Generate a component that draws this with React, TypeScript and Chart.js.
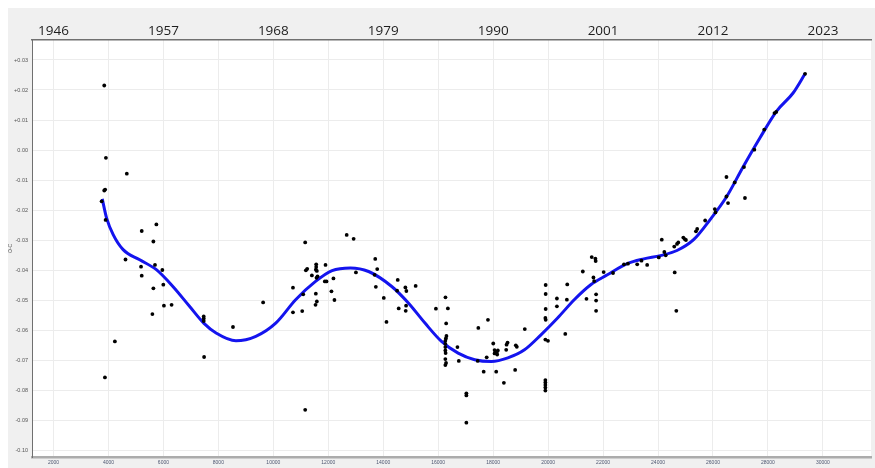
import { useEffect, useRef } from 'react';
import { Chart, registerables } from 'chart.js';

Chart.register(...registerables);

// Observed minima: cycle number (E) and O-C residual in days
const cycleE = [
  3847, 3908, 4668, 3847, 3880, 3752, 3897, 5211, 5744, 5635,
  4621, 5186, 5693, 5961, 5211, 5997, 5635, 6298, 6019, 5599,
  4234, 3872, 7467, 7467, 7467, 7481, 8532, 9629, 10715, 10715,
  11051, 11160, 11185, 11233, 11088, 11403, 11560, 11560, 11548, 11584,
  11572, 11608, 11899, 11873, 11935, 12188, 11547, 11584, 11536, 12116,
  12224, 11160, 12670, 12923, 13007, 13709, 13781, 13685, 13731, 14020,
  14118, 14527, 14505, 14563, 14806, 14842, 14831, 14818, 15179, 15917,
  16265, 16352, 16290, 16300, 16280, 16260, 16260, 16260, 16260, 16270,
  16260, 16285, 16260, 16700, 16750, 17025, 17025, 17025, 17460, 17811,
  17438, 17764, 17655, 18003, 18051, 18087, 18134, 18146, 18051, 18171,
  18111, 18390, 18474, 18488, 18524, 18825, 18861, 18800, 19151, 19911,
  19911, 19911, 19900, 19911, 19900, 19995, 19900, 19900, 19900, 19900,
  19900, 20320, 20320, 20697, 20682, 20624, 21262, 21396, 21587, 21720,
  21730, 21650, 21675, 21746, 21746, 21746, 22022, 22362, 22760, 22905,
  23242, 23398, 23604, 24027, 24136, 24230, 24280, 24590, 24607, 24665,
  24690, 24737, 24920, 24970, 25015, 25380, 25425, 25715, 26066, 26090,
  26490, 26490, 26548, 26790, 27163, 27127, 27504, 27866, 28238, 28300,
  29350,
];

const ocResidual = [
  0.0215, -0.0026, -0.0079, -0.0135, -0.0132, -0.0171, -0.0233, -0.027, -0.0248, -0.0305,
  -0.0365, -0.0389, -0.0383, -0.04, -0.0419, -0.0449, -0.0461, -0.0516, -0.0519, -0.0547,
  -0.0638, -0.0758, -0.0555, -0.0562, -0.057, -0.069, -0.059, -0.0508, -0.0459, -0.0541,
  -0.0537, -0.0308, -0.0401, -0.0396, -0.0481, -0.0418, -0.0381, -0.039, -0.0399, -0.0403,
  -0.0426, -0.0421, -0.0383, -0.0438, -0.0438, -0.0428, -0.0479, -0.0505, -0.0516, -0.0471,
  -0.05, -0.0866, -0.0283, -0.0296, -0.0408, -0.0363, -0.0397, -0.0416, -0.0456, -0.0493,
  -0.0573, -0.0433, -0.0469, -0.0528, -0.0458, -0.047, -0.0519, -0.0536, -0.0453, -0.0529,
  -0.0491, -0.0528, -0.0578, -0.062, -0.0628, -0.0636, -0.0646, -0.0657, -0.0668, -0.0677,
  -0.0697, -0.071, -0.0717, -0.0657, -0.0703, -0.0811, -0.0818, -0.0909, -0.0593, -0.0566,
  -0.0703, -0.0691, -0.0739, -0.0645, -0.0667, -0.0672, -0.0676, -0.0682, -0.0678, -0.0668,
  -0.0739, -0.0776, -0.0666, -0.0649, -0.0642, -0.0651, -0.0656, -0.0733, -0.0597, -0.045,
  -0.048, -0.053, -0.056, -0.0566, -0.0632, -0.0636, -0.0767, -0.0775, -0.0783, -0.0792,
  -0.0802, -0.0495, -0.0521, -0.0448, -0.0499, -0.0613, -0.0405, -0.0496, -0.0357, -0.0362,
  -0.037, -0.0425, -0.0437, -0.0481, -0.0502, -0.0536, -0.0407, -0.041, -0.0381, -0.0379,
  -0.0381, -0.0369, -0.0383, -0.0358, -0.0299, -0.034, -0.0351, -0.0322, -0.0408, -0.0536,
  -0.0313, -0.0308, -0.0292, -0.0297, -0.03, -0.0271, -0.0263, -0.0235, -0.0197, -0.0208,
  -0.009, -0.0155, -0.0177, -0.0108, -0.016, -0.0057, 0.0001, 0.0068, 0.0123, 0.0127,
  0.0254,
];

// Smoothed fit through the residuals
const fitE = [
  3774, 3933, 4172, 4534, 5139, 5744, 6345, 6949, 7467, 7916,
  8640, 9364, 10088, 10812, 11536, 12138, 12804, 13467, 14310, 14915,
  15519, 16120, 16725, 17329, 17930, 18535, 19140, 19740, 20345, 20950,
  21551, 22156, 22880, 23484, 24085, 24690, 25295, 25896, 26500, 27104,
  27706, 28310, 28915, 29350,
];

const fitOC = [
  -0.0163, -0.0227, -0.0282, -0.0332, -0.0366, -0.0399, -0.0455, -0.0521, -0.0577, -0.061,
  -0.0636, -0.0621, -0.0577, -0.0499, -0.0438, -0.0402, -0.0393, -0.0405, -0.0455, -0.051,
  -0.0577, -0.0638, -0.0677, -0.0699, -0.0705, -0.0693, -0.0666, -0.0616, -0.056, -0.0499,
  -0.0449, -0.0416, -0.0379, -0.0363, -0.0352, -0.0335, -0.0299, -0.0232, -0.0155, -0.0055,
  0.004, 0.0129, 0.019, 0.0254,
];

const cycleTicks = [2000, 4000, 6000, 8000, 10000, 12000, 14000, 16000, 18000, 20000, 22000, 24000, 26000, 28000, 30000];
const yearTickCycles = [2000, 6000, 10000, 14000, 18000, 22000, 26000, 30000];
const yearLabels = ['1946', '1957', '1968', '1979', '1990', '2001', '2012', '2023'];
const ocTicks = [-0.1, -0.09, -0.08, -0.07, -0.06, -0.05, -0.04, -0.03, -0.02, -0.01, 0, 0.01, 0.02, 0.03];

const E_MIN = 1218;
const E_MAX = 31750;
const OC_MIN = -0.1025;
const OC_MAX = 0.0369;

const plotBackground = {
  id: 'plotBackground',
  beforeDraw(chart: any) {
    const { ctx, chartArea } = chart;
    ctx.save();
    ctx.fillStyle = '#ffffff';
    ctx.fillRect(chartArea.left, chartArea.top, chartArea.right - chartArea.left, chartArea.bottom - chartArea.top);
    ctx.restore();
  },
};

const formatOC = (v: number) => {
  const r = Math.round(v * 100) / 100;
  if (r > 0) return '+' + r.toFixed(2);
  if (r === 0) return '0.00';
  return r.toFixed(2);
};

// horizontal axes: fixed height, no extra side padding for edge labels
const fixHorizontal = (height: number) => (scale: any) => {
  scale.height = height;
  scale.paddingLeft = 0;
  scale.paddingRight = 0;
};

export default function App() {
  const canvasRef = useRef<HTMLCanvasElement | null>(null);

  useEffect(() => {
    if (!canvasRef.current) return;
    const observed = cycleE.map((e, i) => ({ x: e, y: ocResidual[i] }));
    const fit = fitE.map((e, i) => ({ x: e, y: fitOC[i] }));

    const chart = new Chart(canvasRef.current, {
      type: 'scatter',
      data: {
        datasets: [
          {
            label: 'O-C',
            data: observed,
            backgroundColor: '#000000',
            borderColor: '#000000',
            pointRadius: 1.9,
            pointBorderWidth: 0,
            xAxisID: 'x',
            yAxisID: 'y',
          },
          {
            label: 'fit',
            data: fit,
            showLine: true,
            borderColor: '#1414ee',
            borderWidth: 3,
            pointRadius: 0,
            cubicInterpolationMode: 'monotone',
            xAxisID: 'x',
            yAxisID: 'y',
          } as any,
        ],
      },
      options: {
        animation: false,
        responsive: false,
        devicePixelRatio: 1,
        layout: { padding: 0 },
        plugins: { legend: { display: false }, tooltip: { enabled: false } },
        scales: {
          x: {
            type: 'linear',
            position: 'bottom',
            min: E_MIN,
            max: E_MAX,
            afterBuildTicks: (axis: any) => {
              axis.ticks = cycleTicks.map((value) => ({ value }));
            },
            afterFit: fixHorizontal(10.5),
            grid: { color: '#ececec', lineWidth: 1, drawTicks: false },
            border: { display: true, color: '#acacac', width: 2.5 },
            ticks: {
              autoSkip: false,
              maxRotation: 0,
              padding: 2,
              color: '#4d5670',
              font: { family: 'Liberation Sans', size: 5 },
              callback: (v: any) => String(v),
            },
          },
          x2: {
            type: 'linear',
            position: 'top',
            min: E_MIN,
            max: E_MAX,
            afterBuildTicks: (axis: any) => {
              axis.ticks = yearTickCycles.map((value) => ({ value }));
            },
            afterFit: fixHorizontal(31.3),
            grid: { display: false, drawTicks: false },
            border: { display: true, color: '#707070', width: 1.5 },
            ticks: {
              autoSkip: false,
              maxRotation: 0,
              padding: 0,
              color: '#1e1e1e',
              font: { family: 'Open Sans', size: 13.5 },
              callback: (_v: any, i: number) => yearLabels[i],
            },
          },
          y: {
            type: 'linear',
            min: OC_MIN,
            max: OC_MAX,
            afterBuildTicks: (axis: any) => {
              axis.ticks = ocTicks.map((value) => ({ value }));
            },
            afterFit: (scale: any) => {
              scale.width = 24;
              scale.paddingTop = 0;
              scale.paddingBottom = 0;
            },
            grid: { color: '#ececec', lineWidth: 1, drawTicks: false },
            border: { display: true, color: '#707070', width: 1 },
            title: {
              display: true,
              text: 'O-C',
              color: '#555555',
              padding: 0,
              font: { family: 'Liberation Sans', size: 5 },
            },
            ticks: {
              autoSkip: false,
              padding: 4,
              color: '#555555',
              font: { family: 'Liberation Sans', size: 5.5 },
              callback: (v: any) => formatOC(Number(v)),
            },
          },
        },
      },
      plugins: [plotBackground],
    });

    return () => chart.destroy();
  }, []);

  return (
    <div
      style={{
        position: 'absolute',
        left: 8,
        top: 8,
        width: 867,
        height: 460,
        background: '#f0f0f0',
        overflow: 'hidden',
      }}
    >
      <canvas ref={canvasRef} width={867} height={460} style={{ display: 'block' }} />
    </div>
  );
}
